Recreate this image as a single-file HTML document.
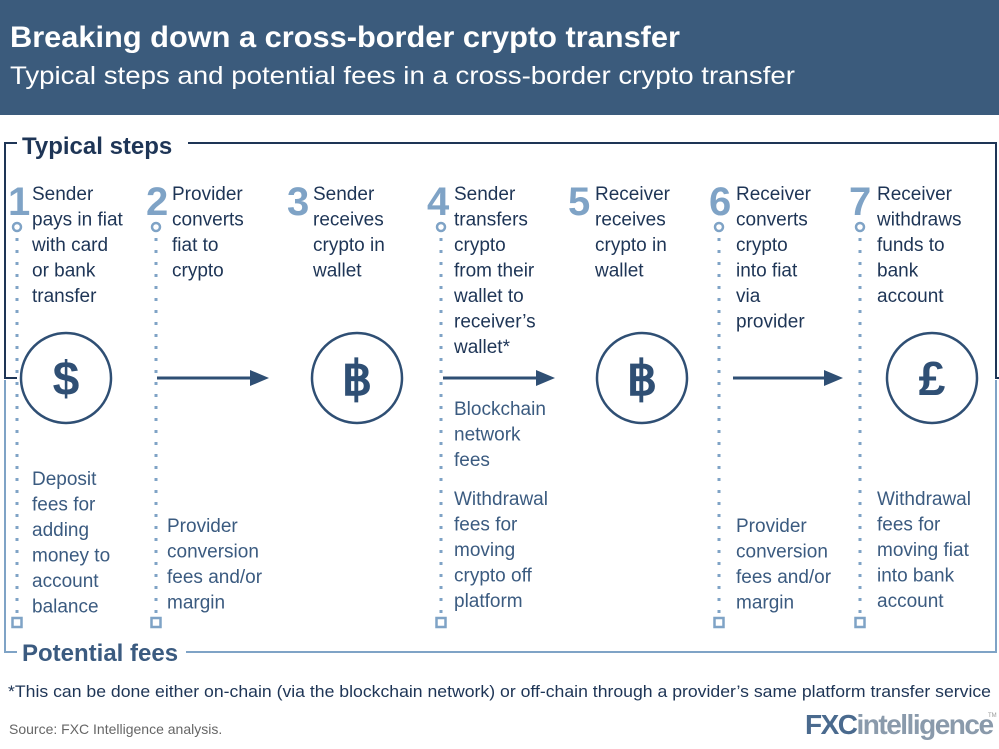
<!DOCTYPE html>
<html><head><meta charset="utf-8"><style>
html,body{margin:0;padding:0;background:#fff;width:999px;height:749px;overflow:hidden}
svg{display:block}
text{font-family:"Liberation Sans",sans-serif}
.s{fill:#1e3556;font-size:19px}
.f{fill:#3b5b80;font-size:19px}
.n{fill:#7fa3c6;font-size:40px;font-weight:bold}
</style></head><body>
<svg width="999" height="749" viewBox="0 0 999 749">
<rect x="0" y="0" width="999" height="115" fill="#3b5b7c"/>
<text x="10" y="47" fill="#fff" font-size="30" font-weight="bold" textLength="670" lengthAdjust="spacingAndGlyphs">Breaking down a cross-border crypto transfer</text>
<text x="10" y="84" fill="#fff" font-size="25" textLength="785" lengthAdjust="spacingAndGlyphs">Typical steps and potential fees in a cross-border crypto transfer</text>

<path d="M17 143 H5 V378 H17 M188 143 H996 V378 H999" fill="none" stroke="#1e3556" stroke-width="2"/>
<path d="M5 380 V652 H17 M186 652 H996 V380" fill="none" stroke="#7fa3c6" stroke-width="2"/>
<text x="22" y="154" fill="#1e3556" font-size="24" font-weight="bold">Typical steps</text>
<text x="22" y="661" fill="#3b5b80" font-size="24" font-weight="bold">Potential fees</text>

<text x="8" y="215" class="n">1</text>
<text x="146" y="215" class="n">2</text>
<text x="287" y="215" class="n">3</text>
<text x="427" y="215" class="n">4</text>
<text x="568" y="215" class="n">5</text>
<text x="709" y="215" class="n">6</text>
<text x="849" y="215" class="n">7</text>

<g stroke="#7fa3c6" fill="none" stroke-width="2.5">
<circle cx="17" cy="227" r="4"/><circle cx="156" cy="227" r="4"/><circle cx="441" cy="227" r="4"/><circle cx="719" cy="227" r="4"/><circle cx="860" cy="227" r="4"/>
<rect x="12.5" y="618" width="9" height="9"/><rect x="151.5" y="618" width="9" height="9"/><rect x="436.5" y="618" width="9" height="9"/><rect x="714.5" y="618" width="9" height="9"/><rect x="855.5" y="618" width="9" height="9"/>
</g>
<g stroke="#7fa3c6" stroke-width="3" stroke-dasharray="3 9">
<line x1="17" y1="238" x2="17" y2="614"/><line x1="156" y1="238" x2="156" y2="614"/><line x1="441" y1="238" x2="441" y2="614"/><line x1="719" y1="238" x2="719" y2="614"/><line x1="860" y1="238" x2="860" y2="614"/>
</g>

<g fill="#fff" stroke="#2f4f74" stroke-width="2.5">
<circle cx="66" cy="378" r="45"/><circle cx="357" cy="378" r="45"/><circle cx="642" cy="378" r="45"/><circle cx="932" cy="378" r="45"/>
</g>
<g fill="#2f4f74" font-size="48" font-weight="bold" text-anchor="middle">
<text x="66" y="395">$</text><text x="357" y="395">฿</text><text x="642" y="395">฿</text><text x="932" y="395">£</text>
</g>
<g stroke="#2f4f74" stroke-width="3">
<line x1="157" y1="378" x2="252" y2="378"/><line x1="443" y1="378" x2="538" y2="378"/><line x1="733" y1="378" x2="826" y2="378"/>
</g>
<g fill="#2f4f74">
<path d="M250 370 L269 378 L250 386Z"/><path d="M536 370 L555 378 L536 386Z"/><path d="M824 370 L843 378 L824 386Z"/>
</g>

<text class="s"><tspan x="32" y="200">Sender</tspan><tspan x="32" dy="25.5">pays in fiat</tspan><tspan x="32" dy="25.5">with card</tspan><tspan x="32" dy="25.5">or bank</tspan><tspan x="32" dy="25.5">transfer</tspan></text>
<text class="s"><tspan x="172" y="200">Provider</tspan><tspan x="172" dy="25.5">converts</tspan><tspan x="172" dy="25.5">fiat to</tspan><tspan x="172" dy="25.5">crypto</tspan></text>
<text class="s"><tspan x="313" y="200">Sender</tspan><tspan x="313" dy="25.5">receives</tspan><tspan x="313" dy="25.5">crypto in</tspan><tspan x="313" dy="25.5">wallet</tspan></text>
<text class="s"><tspan x="454" y="200">Sender</tspan><tspan x="454" dy="25.5">transfers</tspan><tspan x="454" dy="25.5">crypto</tspan><tspan x="454" dy="25.5">from their</tspan><tspan x="454" dy="25.5">wallet to</tspan><tspan x="454" dy="25.5">receiver’s</tspan><tspan x="454" dy="25.5">wallet*</tspan></text>
<text class="s"><tspan x="595" y="200">Receiver</tspan><tspan x="595" dy="25.5">receives</tspan><tspan x="595" dy="25.5">crypto in</tspan><tspan x="595" dy="25.5">wallet</tspan></text>
<text class="s"><tspan x="736" y="200">Receiver</tspan><tspan x="736" dy="25.5">converts</tspan><tspan x="736" dy="25.5">crypto</tspan><tspan x="736" dy="25.5">into fiat</tspan><tspan x="736" dy="25.5">via</tspan><tspan x="736" dy="25.5">provider</tspan></text>
<text class="s"><tspan x="877" y="200">Receiver</tspan><tspan x="877" dy="25.5">withdraws</tspan><tspan x="877" dy="25.5">funds to</tspan><tspan x="877" dy="25.5">bank</tspan><tspan x="877" dy="25.5">account</tspan></text>

<text class="f"><tspan x="32" y="485">Deposit</tspan><tspan x="32" dy="25.5">fees for</tspan><tspan x="32" dy="25.5">adding</tspan><tspan x="32" dy="25.5">money to</tspan><tspan x="32" dy="25.5">account</tspan><tspan x="32" dy="25.5">balance</tspan></text>
<text class="f"><tspan x="167" y="532">Provider</tspan><tspan x="167" dy="25.5">conversion</tspan><tspan x="167" dy="25.5">fees and/or</tspan><tspan x="167" dy="25.5">margin</tspan></text>
<text class="f"><tspan x="454" y="415">Blockchain</tspan><tspan x="454" dy="25.5">network</tspan><tspan x="454" dy="25.5">fees</tspan></text>
<text class="f"><tspan x="454" y="505">Withdrawal</tspan><tspan x="454" dy="25.5">fees for</tspan><tspan x="454" dy="25.5">moving</tspan><tspan x="454" dy="25.5">crypto off</tspan><tspan x="454" dy="25.5">platform</tspan></text>
<text class="f"><tspan x="736" y="532">Provider</tspan><tspan x="736" dy="25.5">conversion</tspan><tspan x="736" dy="25.5">fees and/or</tspan><tspan x="736" dy="25.5">margin</tspan></text>
<text class="f"><tspan x="877" y="505">Withdrawal</tspan><tspan x="877" dy="25.5">fees for</tspan><tspan x="877" dy="25.5">moving fiat</tspan><tspan x="877" dy="25.5">into bank</tspan><tspan x="877" dy="25.5">account</tspan></text>

<text x="8" y="697" fill="#1e3556" font-size="16.5" textLength="983" lengthAdjust="spacingAndGlyphs">*This can be done either on-chain (via the blockchain network) or off-chain through a provider’s same platform transfer service</text>
<text x="9" y="734" fill="#666" font-size="14">Source: FXC Intelligence analysis.</text>
<text x="805" y="734" fill="#4a6a8e" font-size="28" font-weight="bold" letter-spacing="-1.5">FXC<tspan fill="#8a9aab">intelligence</tspan></text>
<text x="988" y="717" fill="#999" font-size="6">TM</text>
</svg>
</body></html>
